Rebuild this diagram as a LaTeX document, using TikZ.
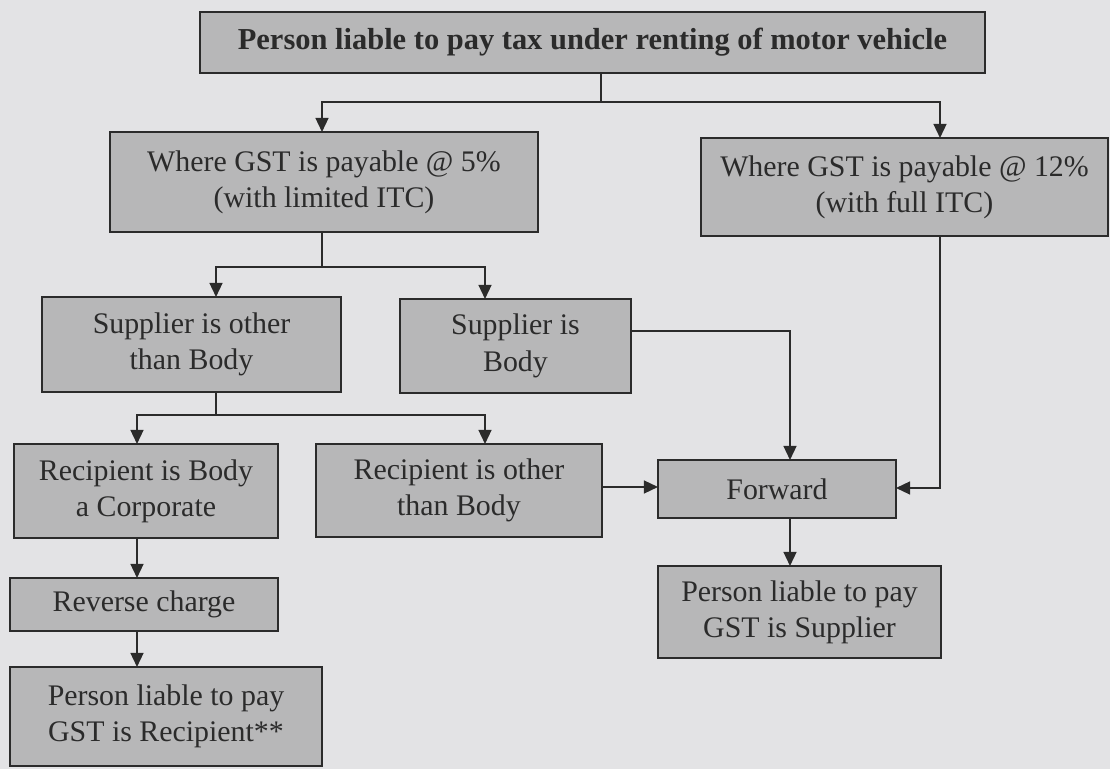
\documentclass[tikz,border=0pt]{standalone}
\usepackage{fontspec}
\setmainfont{Liberation Serif}
\usetikzlibrary{arrows.meta}
\definecolor{bgc}{HTML}{E3E3E5}
\definecolor{boxc}{HTML}{B7B7B8}
\definecolor{inkc}{HTML}{2B2B2B}
\tikzset{
  box/.style={draw=inkc, fill=boxc, line width=1.6pt, inner sep=0pt, outer sep=0pt,
    align=center, text=inkc, font=\fontsize{25.5}{31}\selectfont},
  conn/.style={draw=inkc, line width=1.6pt},
  arr/.style={conn, -{Triangle[length=12pt,width=11pt]}}
}
\begin{document}
\begin{tikzpicture}[x=0.03cm,y=-0.03cm]
\fill[bgc] (0,0) rectangle (1110,769);
\useasboundingbox (0,0) rectangle (1110,769);

\node[box, minimum width=23.55cm, minimum height=1.83cm, font=\fontsize{26}{31}\bfseries] (top) at (592.5,42.5) {Person liable to pay tax under renting of motor vehicle};
\node[box, minimum width=12.84cm, minimum height=3.0cm] (g5) at (324,182) {Where GST is payable @ 5\%\\(with limited ITC)};
\node[box, minimum width=12.21cm, minimum height=2.94cm] (g12) at (904.5,187) {Where GST is payable @ 12\%\\(with full ITC)};
\node[box, minimum width=8.97cm, minimum height=2.85cm] (so) at (191.5,344.5) {Supplier is other\\than Body};
\node[box, minimum width=6.93cm, minimum height=2.82cm] (sb) at (515.5,346) {Supplier is\\Body};
\node[box, minimum width=7.92cm, minimum height=2.82cm] (rb) at (146,491) {Recipient is Body\\a Corporate};
\node[box, minimum width=8.58cm, minimum height=2.79cm] (ro) at (459,490.5) {Recipient is other\\than Body};
\node[box, minimum width=7.14cm, minimum height=1.74cm] (fw) at (777,489) {Forward};
\node[box, minimum width=8.49cm, minimum height=2.76cm] (ps) at (799.5,612) {Person liable to pay\\GST is Supplier};
\node[box, minimum width=8.04cm, minimum height=1.59cm] (rev) at (144,604.5) {Reverse charge};
\node[box, minimum width=9.36cm, minimum height=2.97cm] (pr) at (166,716.5) {Person liable to pay\\GST is Recipient**};

\coordinate (j1) at (601,102);
\coordinate (j2) at (322,267);
\coordinate (j3) at (216,415);

\draw[conn] (top.south -| j1) -- (j1);
\draw[arr] (j1) -| (g5.north -| 322,0);
\draw[arr] (j1) -| (g12.north -| 940,0);

\draw[conn] (g5.south -| j2) -- (j2);
\draw[arr] (j2) -| (so.north -| 216,0);
\draw[arr] (j2) -| (sb.north -| 485,0);

\draw[conn] (so.south -| j3) -- (j3);
\draw[arr] (j3) -| (rb.north -| 137,0);
\draw[arr] (j3) -| (ro.north -| 485,0);

\draw[arr] (sb.east |- 0,331) -| (fw.north -| 790,0);
\draw[arr] (ro.east |- 0,487) -- (fw.west |- 0,487);
\draw[arr] (g12.south -| 940,0) |- (fw.east |- 0,488);
\draw[arr] (fw.south -| 790,0) -- (ps.north -| 790,0);
\draw[arr] (rb.south -| 137,0) -- (rev.north -| 137,0);
\draw[arr] (rev.south -| 137,0) -- (pr.north -| 137,0);
\end{tikzpicture}
\end{document}
